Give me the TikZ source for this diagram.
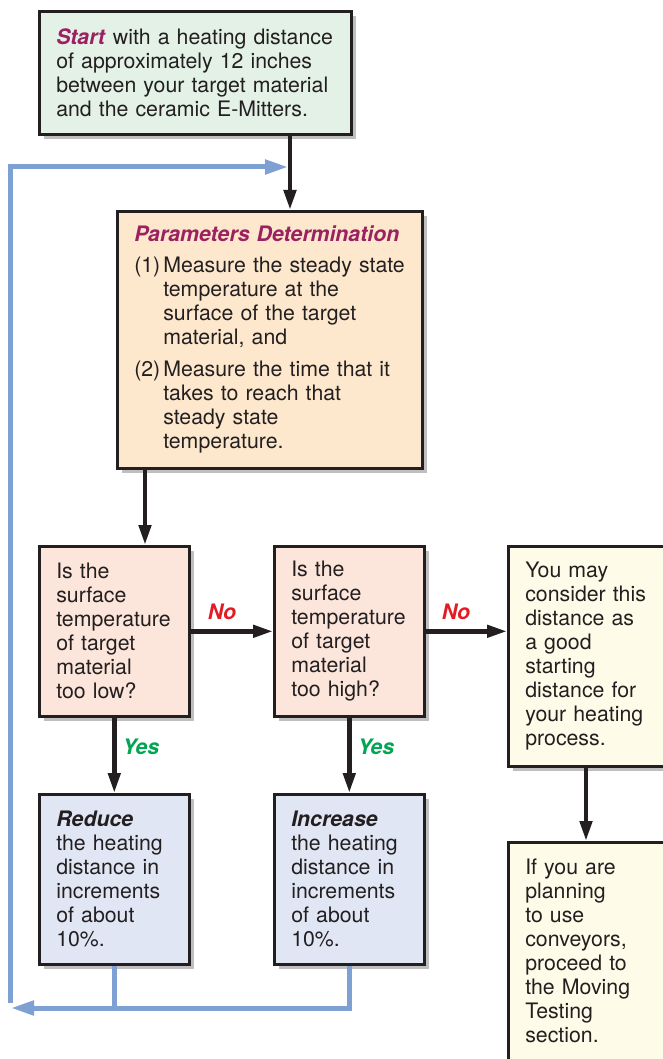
\documentclass[tikz,border=0pt]{standalone}
\usepackage{fontspec}
\setmainfont{TeX Gyre Heros}
\usetikzlibrary{arrows.meta,shadows,calc}
\definecolor{mag}{HTML}{9B2160}
\definecolor{nored}{HTML}{E31B23}
\definecolor{yesgreen}{HTML}{00A651}
\definecolor{startfill}{HTML}{E3F1E7}
\definecolor{paramfill}{HTML}{FDE8CD}
\definecolor{decfill}{HTML}{FCE5DA}
\definecolor{actfill}{HTML}{E0E6F4}
\definecolor{endfill}{HTML}{FEFCE8}
\definecolor{loopblue}{HTML}{7EA0D3}
\definecolor{ink}{HTML}{231F20}
\newcommand{\itemlbl}[1]{\makebox[29pt][l]{#1}}
\newcommand{\itemind}{\hspace*{29pt}}
\tikzset{
  box/.style={draw=ink, line width=2.6pt, anchor=north west, align=left,
    inner xsep=17pt, inner ysep=6pt, text=ink,
    font=\fontsize{21.3}{24}\selectfont,
    drop shadow={shadow xshift=5pt, shadow yshift=-5pt, fill=black, opacity=0.25}},
  arr/.style={draw=ink, line width=4.5pt, -{Triangle[length=20pt,width=12pt]}},
  bluearr/.style={draw=loopblue, line width=5pt, -{Triangle[length=23pt,width=14pt]}},
  blueline/.style={draw=loopblue, line width=5pt},
  lbl/.style={font=\fontsize{21.3}{24}\selectfont\bfseries\itshape, inner sep=0pt}
}
\begin{document}
\begin{tikzpicture}[x=1pt,y=-1pt]
\useasboundingbox (0,0) rectangle (663,1059);
\clip (0,0) rectangle (663,1059);
\fill[white] (0,0) rectangle (663,1059);
% boxes
\node[box, fill=startfill, text width=278pt, minimum width=312pt, minimum height=123pt] (start) at (38,10)
 {\textcolor{mag}{\textbf{\textit{Start}}} with a heating distance\\of approximately 12 inches\\between your target material\\and the ceramic E-Mitters.};
\node[box, fill=paramfill, text width=271pt, minimum width=305pt, minimum height=257pt] (params) at (116,210)
 {\textcolor{mag}{\textbf{\textit{Parameters Determination}}}\\[7pt]
 \mbox{\itemlbl{(1)}Measure the steady state}\\ \itemind temperature at the\\ \itemind surface of the target\\ \itemind material, and\\[8pt]
 \mbox{\itemlbl{(2)}Measure the time that it}\\ \itemind takes to reach that\\ \itemind steady state\\ \itemind temperature.};
\node[box, fill=decfill, text width=116pt, minimum width=150pt, minimum height=170pt] (dlow) at (38,545)
 {Is the\\surface\\temperature\\of target\\material\\too low?};
\node[box, fill=decfill, text width=116pt, minimum width=150pt, minimum height=170pt] (dhigh) at (273,545)
 {Is the\\surface\\temperature\\of target\\material\\too high?};
\node[box, fill=endfill, text width=136pt, minimum width=170pt, minimum height=220pt] (good) at (507,545)
 {You may\\consider this\\distance as\\a good\\starting\\distance for\\your heating\\process.};
\node[box, fill=actfill, text width=116pt, minimum width=150pt, minimum height=170pt] (reduce) at (38,793)
 {\textbf{\textit{Reduce}}\\the heating\\distance in\\increments\\of about\\10\%.};
\node[box, fill=actfill, text width=116pt, minimum width=150pt, minimum height=170pt] (increase) at (273,793)
 {\textbf{\textit{Increase}}\\the heating\\distance in\\increments\\of about\\10\%.};
\node[box, fill=endfill, text width=136pt, minimum width=170pt, minimum height=218pt] (conv) at (507,841)
 {If you are\\planning\\to use\\conveyors,\\proceed to\\the Moving\\Testing\\section.};
% helper coordinates
\coordinate (xa) at (290,0);
\coordinate (xb) at (145,0);
\coordinate (xc) at (586,0);
\coordinate (lowy) at (0,1008);
\coordinate (loopl) at (10,1003);
\coordinate (loopt) at (10,167);
\coordinate (looptip) at (288,167);
\coordinate (backtip) at (11,1008);
% black arrows
\draw[arr] (xa |- start.south) -- (xa |- params.north);
\draw[arr] (xb |- params.south) -- (xb |- dlow.north);
\draw[arr] (dlow.east) -- (dhigh.west);
\draw[arr] (dhigh.east) -- (dhigh.east -| good.west);
\draw[arr] (dlow.south) -- (reduce.north);
\draw[arr] (dhigh.south) -- (increase.north);
\draw[arr] (xc |- good.south) -- (xc |- conv.north);
% labels
\node[lbl, text=nored] (no1) at (222,612) {No};
\node[lbl, text=nored] (no2) at (456,612) {No};
\node[lbl, text=yesgreen] (yes1) at (141,747) {Yes};
\node[lbl, text=yesgreen] (yes2) at (376,747) {Yes};
% blue loop
\draw[blueline] (reduce.south) -- (reduce.south |- lowy);
\draw[bluearr] (increase.south) -- (increase.south |- lowy) -- (backtip);
\draw[bluearr] (loopl) -- (loopt) -- (looptip);
\end{tikzpicture}
\end{document}
